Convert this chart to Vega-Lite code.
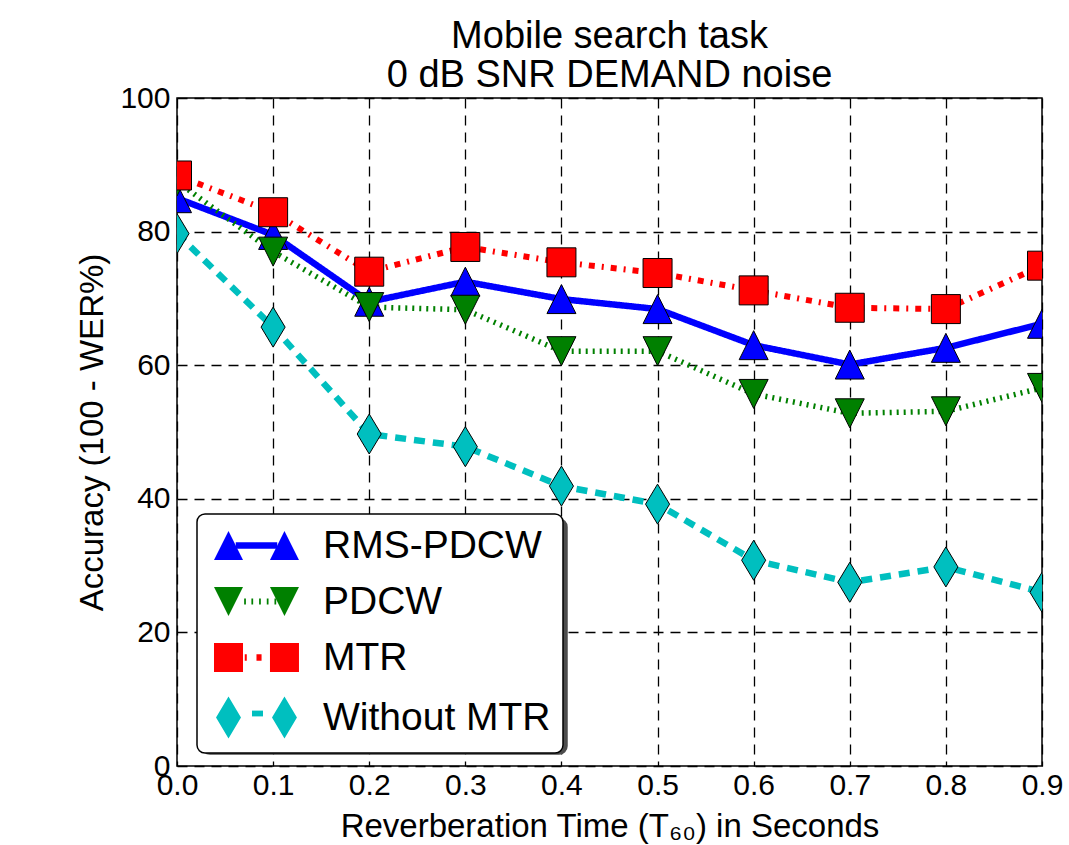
{
  "$schema": "https://vega.github.io/schema/vega-lite/v6.json",
  "width": 865,
  "height": 668,
  "autosize": {"type": "none"},
  "padding": {"left": 177, "top": 98, "right": 27, "bottom": 79},
  "background": "white",
  "title": {
    "text": ["Mobile search task", "0 dB SNR DEMAND noise"],
    "fontSize": 38,
    "font": "Liberation Sans",
    "fontWeight": "normal",
    "color": "black",
    "anchor": "middle",
    "lineHeight": 39,
    "offset": -12
  },
  "config": {
    "view": {"stroke": "black", "strokeWidth": 1.5},
    "legend": {"strokeWidth": 1.5},
    "axis": {
      "grid": true,
      "gridColor": "black",
      "gridDash": [10, 7],
      "gridWidth": 1.3,
      "gridOpacity": 1,
      "ticks": false,
      "domain": false,
      "labelFont": "Liberation Sans",
      "labelFontSize": 30,
      "labelColor": "black",
      "titleFont": "Liberation Sans",
      "titleFontSize": 33,
      "titleFontWeight": "normal",
      "titleColor": "black"
    }
  },
  "data": {
    "values": [
      {"t": 0.0, "series": "RMS-PDCW", "acc": 85.0},
      {"t": 0.1, "series": "RMS-PDCW", "acc": 79.5},
      {"t": 0.2, "series": "RMS-PDCW", "acc": 69.5},
      {"t": 0.3, "series": "RMS-PDCW", "acc": 72.5},
      {"t": 0.4, "series": "RMS-PDCW", "acc": 69.9},
      {"t": 0.5, "series": "RMS-PDCW", "acc": 68.4},
      {"t": 0.6, "series": "RMS-PDCW", "acc": 63.0},
      {"t": 0.7, "series": "RMS-PDCW", "acc": 60.1},
      {"t": 0.8, "series": "RMS-PDCW", "acc": 62.6},
      {"t": 0.9, "series": "RMS-PDCW", "acc": 66.2},
      {"t": 0.0, "series": "PDCW", "acc": 87.5},
      {"t": 0.1, "series": "PDCW", "acc": 77.0},
      {"t": 0.2, "series": "PDCW", "acc": 68.7},
      {"t": 0.3, "series": "PDCW", "acc": 68.3},
      {"t": 0.4, "series": "PDCW", "acc": 62.1},
      {"t": 0.5, "series": "PDCW", "acc": 62.1},
      {"t": 0.6, "series": "PDCW", "acc": 55.7},
      {"t": 0.7, "series": "PDCW", "acc": 52.8},
      {"t": 0.8, "series": "PDCW", "acc": 53.1},
      {"t": 0.9, "series": "PDCW", "acc": 56.6},
      {"t": 0.0, "series": "MTR", "acc": 88.4},
      {"t": 0.1, "series": "MTR", "acc": 82.9},
      {"t": 0.2, "series": "MTR", "acc": 74.0},
      {"t": 0.3, "series": "MTR", "acc": 77.7},
      {"t": 0.4, "series": "MTR", "acc": 75.4},
      {"t": 0.5, "series": "MTR", "acc": 73.8},
      {"t": 0.6, "series": "MTR", "acc": 71.2},
      {"t": 0.7, "series": "MTR", "acc": 68.6},
      {"t": 0.8, "series": "MTR", "acc": 68.4},
      {"t": 0.9, "series": "MTR", "acc": 74.9},
      {"t": 0.0, "series": "Without MTR", "acc": 79.7},
      {"t": 0.1, "series": "Without MTR", "acc": 65.7},
      {"t": 0.2, "series": "Without MTR", "acc": 49.7},
      {"t": 0.3, "series": "Without MTR", "acc": 47.8},
      {"t": 0.4, "series": "Without MTR", "acc": 41.9},
      {"t": 0.5, "series": "Without MTR", "acc": 39.2},
      {"t": 0.6, "series": "Without MTR", "acc": 30.8},
      {"t": 0.7, "series": "Without MTR", "acc": 27.5},
      {"t": 0.8, "series": "Without MTR", "acc": 29.8},
      {"t": 0.9, "series": "Without MTR", "acc": 26.0}
    ]
  },
  "resolve": {
    "scale": {"shape": "independent", "fill": "independent"},
    "legend": {"shape": "independent", "fill": "independent"}
  },
  "layer": [
    {
      "mark": {"type": "line", "clip": true},
      "encoding": {
        "x": {
          "field": "t", "type": "quantitative",
          "scale": {"domain": [0, 0.9], "nice": false, "zero": false},
          "axis": {"values": [0, 0.1, 0.2, 0.3, 0.4, 0.5, 0.6, 0.7, 0.8, 0.9], "format": ".1f", "labelPadding": 4, "titlePadding": 10, "labelFlush": false},
          "title": "Reverberation Time (T₆₀) in Seconds"
        },
        "y": {
          "field": "acc", "type": "quantitative",
          "scale": {"domain": [0, 100], "nice": false},
          "axis": {"values": [0, 20, 40, 60, 80, 100], "labelPadding": 7, "titlePadding": 10, "labelFlush": false},
          "title": "Accuracy (100 - WER%)"
        },
        "color": {
          "field": "series", "type": "nominal",
          "scale": {"domain": ["RMS-PDCW", "PDCW", "MTR", "Without MTR"], "range": ["#0000ff", "#008000", "#ff0000", "#00bfbf"]},
          "legend": null
        },
        "strokeDash": {
          "field": "series", "type": "nominal",
          "scale": {"domain": ["RMS-PDCW", "PDCW", "MTR", "Without MTR"], "range": [[1, 0], [2, 5], [6, 7, 2, 7], [11, 8]]},
          "legend": null
        },
        "strokeWidth": {
          "field": "series", "type": "nominal",
          "scale": {"type": "ordinal", "domain": ["RMS-PDCW", "PDCW", "MTR", "Without MTR"], "range": [6.5, 5.5, 6, 6.5]},
          "legend": null
        }
      }
    },
    {
      "mark": {"type": "point", "filled": true, "opacity": 1, "stroke": "black", "strokeWidth": 1, "size": 841, "clip": true},
      "encoding": {
        "x": {"field": "t", "type": "quantitative"},
        "y": {"field": "acc", "type": "quantitative"},
        "color": {"field": "series", "type": "nominal", "legend": null},
        "shape": {
          "field": "series", "type": "nominal",
          "scale": {"domain": ["RMS-PDCW", "PDCW", "MTR", "Without MTR"], "range": ["M0,-1L1,1L-1,1Z", "M0,1L1,-1L-1,-1Z", "square", "M0,-1.38L0.83,0L0,1.38L-0.83,0Z"]},
          "legend": null
        }
      }
    },
    {
      "transform": [{"filter": "datum.acc < 0"}],
      "mark": {"type": "point", "filled": true, "opacity": 0},
      "encoding": {
        "shape": {
          "field": "series", "type": "nominal",
          "scale": {"domain": ["RMS-PDCW", "PDCW", "MTR", "Without MTR"], "range": [
            "M-1,-1.39L22.14,-1.39L22.14,1.39L-1,1.39Z",
            "M-1,-1.39L22.14,-1.39L22.14,1.39L-1,1.39Z",
            "M-1,-1.39L22.14,-1.39L22.14,1.39L-1,1.39Z",
            "M-1,-1.39L22.14,-1.39L22.14,1.39L-1,1.39Z"
          ]},
          "legend": {"orient": "none", "legendX": 25, "legendY": 421, "title": null, "symbolSize": 841, "labelFont": "Liberation Sans", "labelFontSize": 39, "labelExpr": "''", "labelOffset": 0, "labelOpacity": 0, "labelLimit": 500, "padding": 12, "rowPadding": 16, "fillColor": "#4d4d4d", "strokeColor": "#4d4d4d", "cornerRadius": 8, "symbolOpacity": 0}
        }
      }
    },
    {
      "transform": [{"filter": "datum.acc < 0"}],
      "mark": {"type": "point", "filled": true, "opacity": 1, "stroke": "black", "strokeWidth": 1},
      "encoding": {
        "fill": {
          "field": "series", "type": "nominal",
          "scale": {"domain": ["RMS-PDCW", "PDCW", "MTR", "Without MTR"], "range": ["#0000ff", "#008000", "#ff0000", "#00bfbf"]},
          "legend": {"orient": "none", "legendX": 20, "legendY": 416, "title": null, "symbolSize": 841, "labelFont": "Liberation Sans", "labelFontSize": 39, "labelColor": "black", "labelOffset": 75, "labelLimit": 500, "padding": 12, "rowPadding": 16, "fillColor": "white", "strokeColor": "black", "cornerRadius": 8, "symbolStrokeColor": "black", "symbolStrokeWidth": 1}
        },
        "shape": {
          "field": "series", "type": "nominal",
          "scale": {"domain": ["RMS-PDCW", "PDCW", "MTR", "Without MTR"], "range": [
            "M0,-1L1,1L-1,1ZM3.86,-1L4.86,1L2.86,1Z",
            "M0,1L1,-1L-1,-1ZM3.86,1L4.86,-1L2.86,-1Z",
            "M-1,-1L1,-1L1,1L-1,1ZM2.86,-1L4.86,-1L4.86,1L2.86,1Z",
            "M0,-1.45L0.86,0L0,1.45L-0.86,0ZM3.86,-1.45L4.72,0L3.86,1.45L3,0Z"
          ]},
          "legend": {"orient": "none", "legendX": 20, "legendY": 416, "title": null, "symbolSize": 841, "labelFont": "Liberation Sans", "labelFontSize": 39, "labelColor": "black", "labelOffset": 75, "labelLimit": 500, "padding": 12, "rowPadding": 16, "fillColor": "white", "strokeColor": "black", "cornerRadius": 8, "symbolStrokeColor": "black", "symbolStrokeWidth": 1}
        }
      }
    },
    {
      "transform": [{"filter": "datum.acc < 0"}],
      "mark": {"type": "point", "filled": true, "opacity": 1, "strokeWidth": 0},
      "encoding": {
        "fill": {
          "field": "series", "type": "nominal",
          "scale": {"domain": ["RMS-PDCW", "PDCW", "MTR", "Without MTR"], "range": ["#0000ff", "#008000", "#ff0000", "#00bfbf"]},
          "legend": {"orient": "none", "legendX": 20, "legendY": 416, "title": null, "symbolSize": 841, "labelFont": "Liberation Sans", "labelFontSize": 39, "labelExpr": "' '", "labelOpacity": 0, "labelOffset": 75, "labelLimit": 500, "padding": 12, "rowPadding": 16, "symbolStrokeWidth": 0}
        },
        "shape": {
          "field": "series", "type": "nominal",
          "scale": {"domain": ["RMS-PDCW", "PDCW", "MTR", "Without MTR"], "range": [
            "M0.5,-0.22L3.36,-0.22L3.36,0.22L0.5,0.22Z",
            "M1.08,-0.2L1.2,-0.2L1.2,0.2L1.08,0.2ZM1.58,-0.2L1.7,-0.2L1.7,0.2L1.58,0.2ZM2.11,-0.2L2.23,-0.2L2.23,0.2L2.11,0.2ZM2.64,-0.2L2.76,-0.2L2.76,0.2L2.64,0.2ZM3.17,-0.2L3.29,-0.2L3.29,0.2L3.17,0.2Z",
            "M1.12,-0.22L1.26,-0.22L1.26,0.22L1.12,0.22ZM1.93,-0.22L2.28,-0.22L2.28,0.22L1.93,0.22Z",
            "M1.62,-0.2L2.38,-0.2L2.38,0.2L1.62,0.2Z"
          ]},
          "legend": {"orient": "none", "legendX": 20, "legendY": 416, "title": null, "symbolSize": 841, "labelFont": "Liberation Sans", "labelFontSize": 39, "labelExpr": "' '", "labelOpacity": 0, "labelOffset": 75, "labelLimit": 500, "padding": 12, "rowPadding": 16, "symbolStrokeWidth": 0}
        }
      }
    }
  ]
}
